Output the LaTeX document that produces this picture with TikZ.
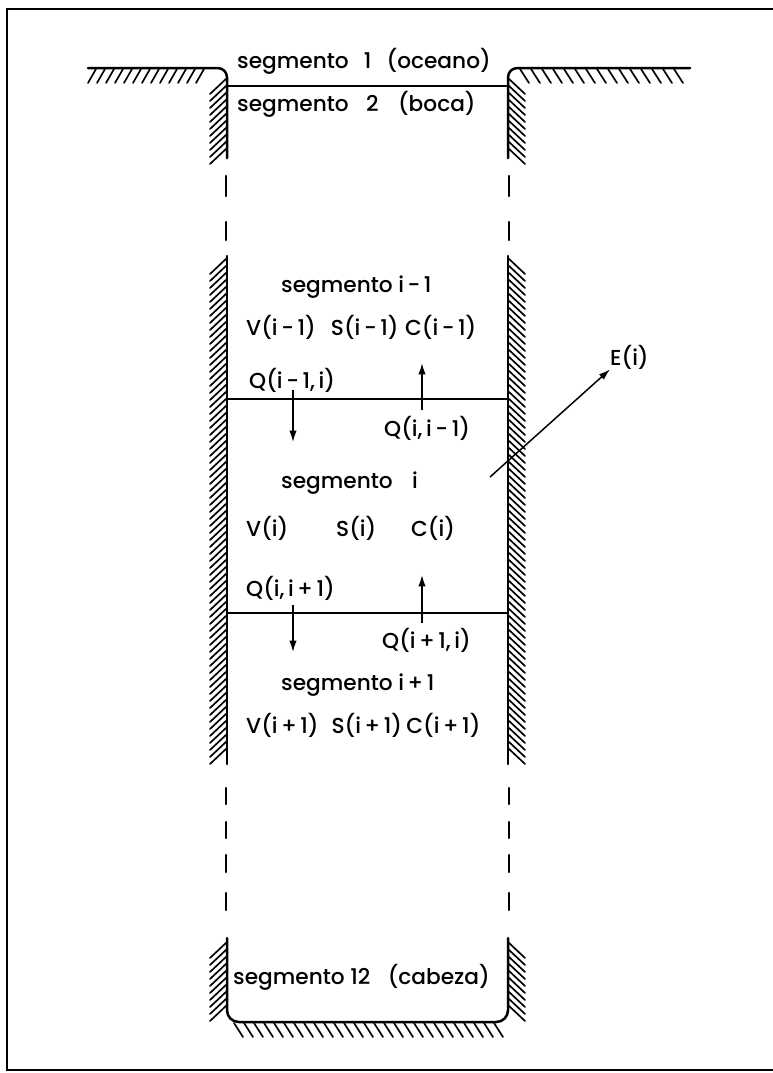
\documentclass[tikz,border=0pt]{standalone}
\usepackage{fontspec}
\setmainfont{Poppins}[UprightFont=* Medium]
\usetikzlibrary{arrows.meta,positioning}
\tikzset{
  >={Latex[length=3.4mm,width=2.2mm]},
  wall/.style={line width=0.75mm,line cap=round},
  hatch/.style={line width=0.5mm,line cap=round},
  divline/.style={line width=0.45mm},
  gapdash/.style={line width=0.65mm,line cap=round},
  flux/.style={->,line width=0.45mm},
  txt/.style={font=\fontsize{18.5}{21}\selectfont,inner sep=0pt,anchor=west},
}
\begin{document}
\begin{tikzpicture}[x=0.3mm,y=-0.3mm]
  \useasboundingbox (0,0) rectangle (773,1073);
  % frame
  \draw[line width=0.75mm] (790,9) -- (7,9) -- (7,1070) -- (790,1070);
  % mouth (ocean side)
  \draw[wall,rounded corners=8] (88,68) -- (227,68) -- (227,158);
  \draw[wall,rounded corners=8] (508,158) -- (508,68) -- (690,68);
  \foreach \x in {96,105,...,212} \draw[hatch] (\x,69) -- ++(-8,14);
  \foreach \x in {520,531,...,682} \draw[hatch] (\x,69) -- ++(9,14);
  \foreach \y in {78,85,...,150} {
    \draw[hatch] (227,\y) -- ++(-17,16);
    \draw[hatch] (508,\y) -- ++(17,16);
  }
  \draw[divline] (227,86) -- (508,86);
  \node[txt] (seg1) at (237,61) {segmento\hspace{0.7em}1\hspace{0.7em}(oceano)};
  \node[txt] (seg2) at (237,104) {segmento\hspace{0.8em}2\hspace{0.9em}(boca)};
  % gaps
  \foreach \a/\b in {176/196,222/240,788/804,822/838,855/872,893/910} {
    \draw[gapdash] (226,\a) -- (226,\b);
    \draw[gapdash] (509,\a) -- (509,\b);
  }
  % middle reach
  \draw[wall] (227,256) -- (227,764);
  \draw[wall] (508,256) -- (508,764);
  \foreach \y in {258,265,...,752} {
    \draw[hatch] (227,\y) -- ++(-17,16);
    \draw[hatch] (508,\y) -- ++(17,16);
  }
  \draw[divline] (227,399) -- (508,399);
  \draw[divline] (227,613) -- (508,613);
  % segment i-1
  \node[txt] (segim) at (281,287) {segmento i\,-\,1};
  \node[txt] (vim) at (246,327) {V(i\,-\,1)\hspace{0.7em}S(i\,-\,1)\hspace{0.3em}C(i\,-\,1)};
  \node[txt] (qimi) at (249,380) {Q(i\,-\,1,\,i)};
  \node[txt] (qiim) at (384,428) {Q(i,\,i\,-\,1)};
  \coordinate (qimi0) at (293,390);
  \coordinate (qimi1) at (293,442);
  \coordinate (qiim0) at (422,410);
  \coordinate (qiim1) at (422,363);
  \draw[flux] (qimi0) -- (qimi1);
  \draw[flux] (qiim0) -- (qiim1);
  % segment i
  \node[txt] (segi) at (281,483) {segmento\hspace{0.9em}i};
  \node[txt] (vi) at (246,528) {V(i)};
  \node[txt] (si) at (336,528) {S(i)};
  \node[txt] (ci) at (411,528) {C(i)};
  \node[txt] (qiip) at (246,588) {Q(i,\,i\,+\,1)};
  \node[txt] (qipi) at (382,640) {Q(i\,+\,1,\,i)};
  \coordinate (qiip0) at (293,605);
  \coordinate (qiip1) at (293,652);
  \coordinate (qipi0) at (422,623);
  \coordinate (qipi1) at (422,575);
  \draw[flux] (qiip0) -- (qiip1);
  \draw[flux] (qipi0) -- (qipi1);
  % segment i+1
  \node[txt] (segip) at (281,685) {segmento i\,+\,1};
  \node[txt] (vip) at (246,725) {V(i\,+\,1)\hspace{0.6em}S(i\,+\,1)\hspace{0.2em}C(i\,+\,1)};
  % exchange
  \node[txt] (ei) at (610,357) {E(i)};
  \coordinate (etail) at (490,477);
  \draw[flux] (etail) -- (ei.south west);
  % head
  \draw[wall,rounded corners=10] (227,938) -- (227,1022) -- (508,1022) -- (508,938);
  \foreach \y in {942,949,...,1010} {
    \draw[hatch] (227,\y) -- ++(-17,16);
    \draw[hatch] (508,\y) -- ++(17,16);
  }
  \foreach \x in {234,244,...,500} \draw[hatch] (\x,1023) -- ++(9,14);
  \node[txt] (seg12) at (233,977) {segmento 12\hspace{0.8em}(cabeza)};
\end{tikzpicture}
\end{document}
